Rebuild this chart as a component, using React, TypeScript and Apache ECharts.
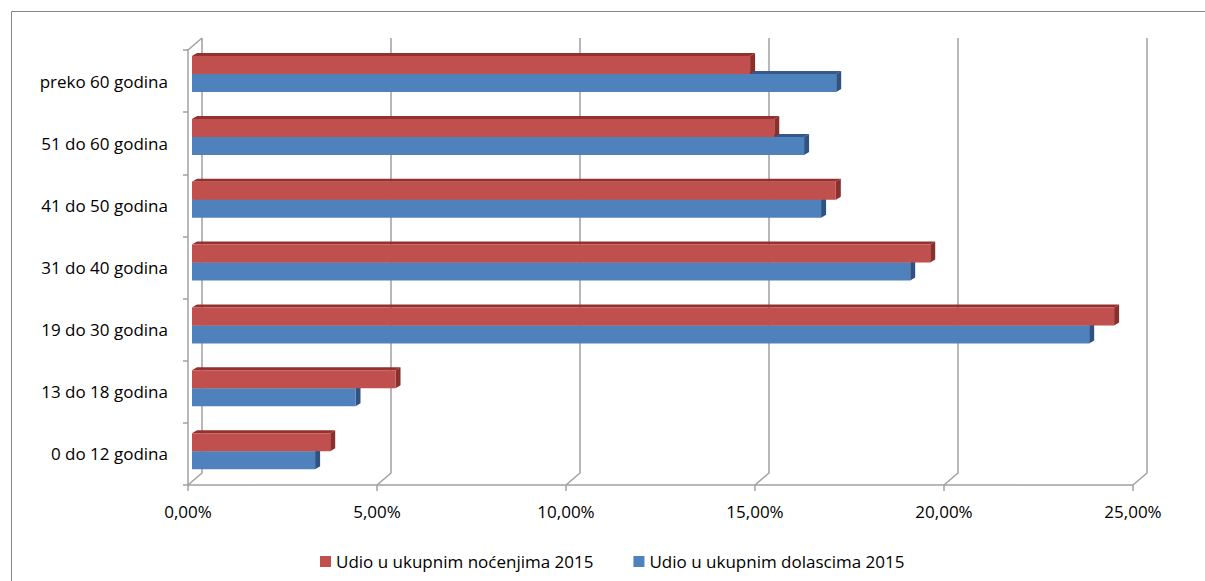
import React, { useEffect, useRef } from "react";
import * as echarts from "echarts";

const categories = [
  "0 do 12 godina",
  "13 do 18 godina",
  "19 do 30 godina",
  "31 do 40 godina",
  "41 do 50 godina",
  "51 do 60 godina",
  "preko 60 godina",
];
const nocenja2015 = [3.66, 5.39, 24.42, 19.55, 17.05, 15.42, 14.78];
const dolasci2015 = [3.26, 4.33, 23.76, 19.02, 16.66, 16.21, 17.06];
const xTicks = [0, 5, 10, 15, 20, 25];
const seriesNames = ["Udio u ukupnim noćenjima 2015", "Udio u ukupnim dolascima 2015"];

const FONT = "'Open Sans', 'Liberation Sans', Arial, sans-serif";
const FS = 17;
const TXT = "#000000";
const GRID = "#A0A0A0";
const RED = { front: "#C0504D", top: "#96302E", side: "#8A2F2C" };
const BLUE = { front: "#4F81BD", top: "#35598A", side: "#2E5282" };
const OX = 14;
const OY = -12;
const DX = 5;
const DY = -3;
const BAR_H = 18;

const fmt = (v: number) => v.toFixed(2).replace(".", ",") + "%";

function barRenderer(colors: typeof RED, upper: boolean) {
  return (params: any, api: any) => {
    const v = api.value(0);
    const c = api.value(1);
    const s = api.coord([0, c]);
    const e = api.coord([v, c]);
    const x0 = s[0];
    const x1 = e[0];
    const y = upper ? e[1] - BAR_H : e[1];
    return {
      type: "group",
      children: [
        {
          type: "polygon",
          shape: { points: [[x0, y], [x0 + DX, y + DY], [x1 + DX, y + DY], [x1, y]] },
          style: { fill: colors.top },
        },
        {
          type: "polygon",
          shape: { points: [[x1, y], [x1 + DX, y + DY], [x1 + DX, y + BAR_H + DY], [x1, y + BAR_H]] },
          style: { fill: colors.side },
        },
        {
          type: "rect",
          shape: { x: x0, y: y, width: x1 - x0, height: BAR_H },
          style: { fill: colors.front },
        },
      ],
    };
  };
}

function frameRenderer(params: any, api: any) {
  const t = api.value(0);
  const band = api.size([0, 1])[1];
  const p0 = api.coord([t, 0]);
  const pTop = api.coord([t, categories.length - 1]);
  const x = p0[0];
  const by = p0[1] + band / 2;
  const ty = pTop[1] - band / 2;
  const children: any[] = [
    {
      type: "polyline",
      shape: { points: [[x, by], [x + OX, by + OY], [x + OX, ty + OY]] },
      style: { stroke: GRID, lineWidth: 1.5, fill: null },
    },
  ];
  if (t === 0) {
    children.push({
      type: "line",
      shape: { x1: x, y1: ty, x2: x + OX, y2: ty + OY },
      style: { stroke: GRID, lineWidth: 1.5 },
    });
  }
  return { type: "group", children };
}

export default function App() {
  const ref = useRef<HTMLDivElement>(null);
  useEffect(() => {
    document.body.style.margin = "0";
    const chart = echarts.init(ref.current!, null, { renderer: "svg" });
    chart.setOption({
      animation: false,
      backgroundColor: "#ffffff",
      textStyle: { fontFamily: FONT },
      graphic: [
        {
          type: "rect",
          shape: { x: 11.5, y: 11.5, width: 1250, height: 650 },
          style: { fill: null, stroke: "#868686", lineWidth: 1 },
          silent: true,
        },
      ],
      legend: {
        top: 548,
        left: 315,
        icon: "rect",
        itemWidth: 11,
        itemHeight: 11,
        itemGap: 40,
        textStyle: { fontFamily: FONT, fontSize: FS, color: TXT },
        data: [
          { name: seriesNames[0], itemStyle: { color: RED.front } },
          { name: seriesNames[1], itemStyle: { color: BLUE.front } },
        ],
      },
      grid: [
        { left: 188, top: 50, width: 945, height: 435 },
        { left: 192, top: 42.6, width: 944, height: 440 },
      ],
      xAxis: [
        {
          gridIndex: 0,
          type: "value",
          min: 0,
          max: 25,
          interval: 5,
          axisLine: { show: true, lineStyle: { color: GRID, width: 1.5 } },
          axisTick: { show: true, length: 6, lineStyle: { color: GRID, width: 1.5 } },
          splitLine: { show: false },
          axisLabel: {
            fontFamily: FONT,
            fontSize: FS,
            color: TXT,
            margin: 18,
            formatter: (v: number) => fmt(v),
          },
        },
        {
          gridIndex: 1,
          type: "value",
          min: 0,
          max: 25,
          interval: 5,
          show: false,
        },
      ],
      yAxis: [
        {
          gridIndex: 0,
          type: "category",
          data: categories,
          axisLine: { show: true, lineStyle: { color: GRID, width: 1.5 } },
          axisTick: { show: true, length: 5, lineStyle: { color: GRID, width: 1.5 } },
          axisLabel: {
            fontFamily: FONT,
            fontSize: FS,
            color: TXT,
            margin: 20,
            padding: [6, 0, 0, 0],
          },
          splitLine: { show: false },
        },
        {
          gridIndex: 1,
          type: "category",
          data: categories,
          show: false,
        },
      ],
      series: [
        {
          type: "custom",
          name: "frame",
          xAxisIndex: 0,
          yAxisIndex: 0,
          z: 1,
          silent: true,
          renderItem: frameRenderer,
          encode: { x: 0, y: 1 },
          data: xTicks.map((t) => [t, 0]),
        },
        {
          type: "custom",
          name: seriesNames[1],
          xAxisIndex: 1,
          yAxisIndex: 1,
          z: 3,
          itemStyle: { color: BLUE.front },
          renderItem: barRenderer(BLUE, false),
          encode: { x: 0, y: 1 },
          data: dolasci2015.map((v, i) => [v, i]),
        },
        {
          type: "custom",
          name: seriesNames[0],
          xAxisIndex: 1,
          yAxisIndex: 1,
          z: 4,
          itemStyle: { color: RED.front },
          renderItem: barRenderer(RED, true),
          encode: { x: 0, y: 1 },
          data: nocenja2015.map((v, i) => [v, i]),
        },
      ],
    });
    return () => chart.dispose();
  }, []);
  return <div ref={ref} style={{ width: 1205, height: 581 }} />;
}
